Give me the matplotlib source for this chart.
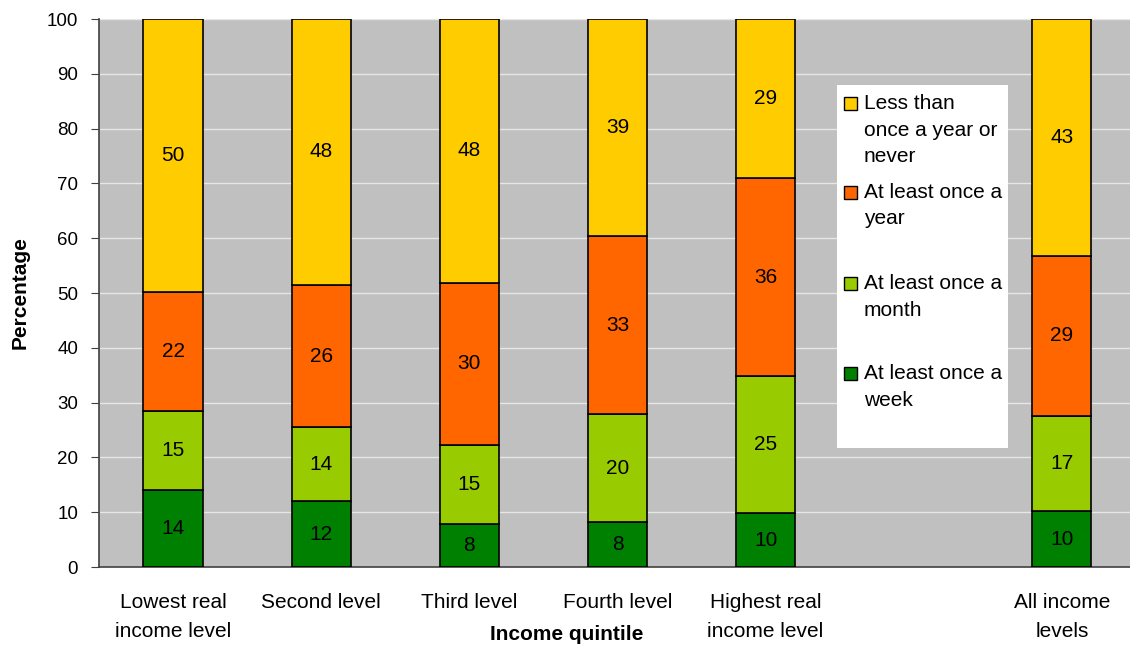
import matplotlib
matplotlib.use("Agg")
import matplotlib.pyplot as plt
from matplotlib.patches import Rectangle
import numpy as np

plt.rcParams['font.family'] = ['Liberation Sans', 'DejaVu Sans']

categories = ["Lowest real\nincome level", "Second level", "Third level",
              "Fourth level", "Highest real\nincome level", "All income\nlevels"]
positions = [0, 1, 2, 3, 4, 6]

series_names = ["At least once a\nweek", "At least once a\nmonth",
                "At least once a\nyear", "Less than\nonce a year or\nnever"]
week = [14.05, 12.0, 7.85, 8.2, 9.85, 10.2]
month = [14.45, 13.5, 14.4, 19.7, 25.0, 17.4]
year = [21.7, 26.0, 29.6, 32.5, 36.1, 29.2]
never = [49.8, 48.5, 48.2, 39.6, 29.0, 43.2]

week_labels = ["14", "12", "8", "8", "10", "10"]
month_labels = ["15", "14", "15", "20", "25", "17"]
year_labels = ["22", "26", "30", "33", "36", "29"]
never_labels = ["50", "48", "48", "39", "29", "43"]

colors = ["#008000", "#99CC00", "#FF6600", "#FFCC00"]

fig = plt.figure(figsize=(11.3, 6.48), dpi=100)
ax = fig.add_axes([99/1130, 81/648, 1 - 99/1130, 548/648])
ax.set_facecolor("#C0C0C0")

series = [week, month, year, never]
labels = [week_labels, month_labels, year_labels, never_labels]
bottom = np.zeros(len(positions))
for vals, labs, col in zip(series, labels, colors):
    vals = np.array(vals)
    ax.bar(positions, vals, bottom=bottom, width=0.4, color=col,
           edgecolor="black", linewidth=1.2, zorder=3)
    for x, b, v, t in zip(positions, bottom, vals, labs):
        ax.text(x, b + v / 2, t, ha="center", va="center", fontsize=15,
                color="black", zorder=4)
    bottom += vals

ax.set_ylim(0, 100)
ax.set_xlim(-0.5, 6.46)
ax.set_yticks(np.arange(0, 101, 10))
ax.yaxis.grid(True, color="#E6E6E6", linewidth=1.0, zorder=0)
ax.set_axisbelow(True)
ax.tick_params(axis="y", labelsize=13.5, length=6, color="#404040", pad=9)
ax.set_xticks(positions)
ax.set_xticklabels(categories, fontsize=15, linespacing=1.62)
ax.tick_params(axis="x", length=0, pad=19)
for s in ["top", "right"]:
    ax.spines[s].set_visible(False)
for s in ["left", "bottom"]:
    ax.spines[s].set_color("#404040")
    ax.spines[s].set_linewidth(1.2)

ax.set_ylabel("Percentage", fontsize=15, fontweight="bold", labelpad=12)
fig.text(567/1130, 1 - 634/648, "Income quintile", ha="center", va="center",
         fontsize=15, fontweight="bold")

# legend box drawn manually
W, H = 1130, 648
fig.patches.append(Rectangle((837/W, 1 - 448/H), (1008-837)/W, (448-85)/H,
                             transform=fig.transFigure, facecolor="white",
                             edgecolor="none", zorder=5))
leg_y = [103, 192, 283, 373]  # first-line centers (pixels from top)
order = [3, 2, 1, 0]
for yy, idx in zip(leg_y, order):
    fig.patches.append(Rectangle((844/W, 1 - (yy + 7)/H), 13/W, 13/H,
                                 transform=fig.transFigure,
                                 facecolor=colors[idx], edgecolor="black",
                                 linewidth=1.0, zorder=6))
    fig.text(864/W, 1 - (yy - 9)/H, series_names[idx], ha="left", va="top",
             fontsize=15, linespacing=1.5, zorder=7)

fig.savefig("out.png", dpi=100)
